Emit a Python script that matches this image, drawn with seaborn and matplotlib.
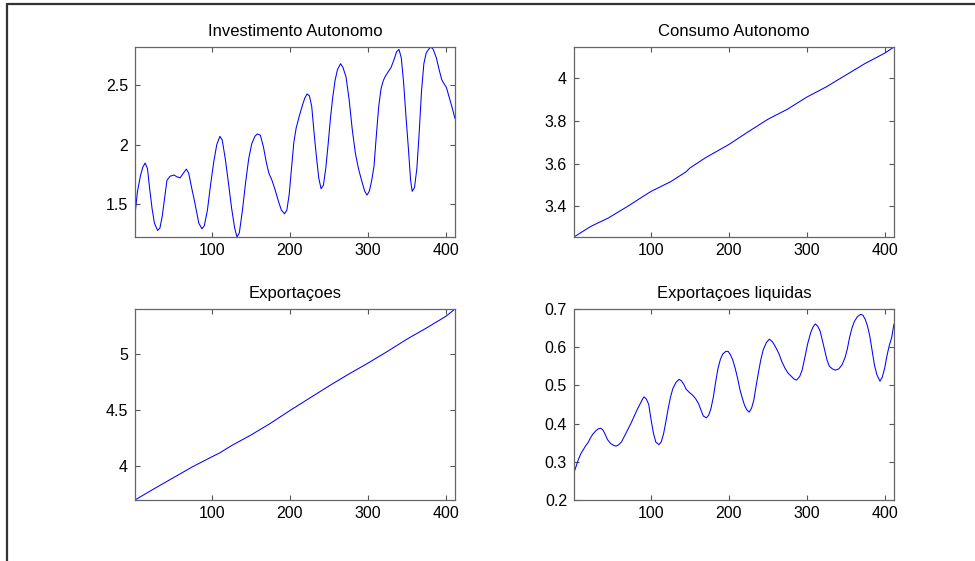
import matplotlib
matplotlib.use("Agg")
import matplotlib.pyplot as plt
from matplotlib.lines import Line2D
from matplotlib.ticker import FuncFormatter
import seaborn as sns
import pandas as pd

# ---------------- data ----------------
inv_x = [1, 4, 8, 11, 14, 17, 20, 23, 26, 30, 33, 36, 39, 42, 46, 51, 55, 59, 63, 67,
         70, 74, 77, 80, 83, 87, 90, 94, 98, 102, 106, 110, 113, 117, 121, 125, 129, 132,
         135, 139, 143, 147, 151, 155, 158, 162, 166, 170, 173, 177, 181, 185, 189, 193,
         196, 199, 202, 205, 208, 212, 216, 219, 222, 225, 228, 231, 234, 237, 240, 243,
         246, 249, 252, 255, 258, 261, 265, 268, 272, 276, 280, 284, 288, 292, 296, 299,
         302, 305, 308, 311, 314, 317, 320, 323, 326, 330, 334, 337, 340, 343, 346, 349,
         352, 355, 357, 360, 363, 366, 369, 372, 375, 378, 381, 384, 388, 392, 395, 398,
         401, 404, 408, 412]
inv_y = [1.41, 1.60, 1.74, 1.81, 1.846, 1.80, 1.62, 1.46, 1.34, 1.28, 1.30, 1.40, 1.55,
         1.70, 1.735, 1.745, 1.73, 1.722, 1.76, 1.795, 1.76, 1.63, 1.54, 1.44, 1.34, 1.294,
         1.32, 1.45, 1.66, 1.85, 2.00, 2.07, 2.04, 1.88, 1.68, 1.47, 1.30, 1.225, 1.26,
         1.45, 1.68, 1.88, 2.01, 2.07, 2.09, 2.08, 1.98, 1.84, 1.76, 1.70, 1.62, 1.53, 1.45,
         1.42, 1.45, 1.58, 1.80, 2.02, 2.14, 2.24, 2.33, 2.39, 2.426, 2.41, 2.32, 2.10, 1.90,
         1.72, 1.63, 1.66, 1.80, 2.00, 2.22, 2.40, 2.54, 2.63, 2.68, 2.65, 2.57, 2.38, 2.13,
         1.93, 1.80, 1.70, 1.61, 1.577, 1.61, 1.70, 1.82, 2.08, 2.32, 2.47, 2.54, 2.58, 2.61,
         2.65, 2.72, 2.78, 2.80, 2.73, 2.52, 2.24, 1.98, 1.70, 1.608, 1.64, 1.80, 2.10, 2.45,
         2.68, 2.77, 2.80, 2.82, 2.80, 2.73, 2.62, 2.545, 2.51, 2.48, 2.41, 2.32, 2.22]

cons_x = [1, 20, 25, 45, 70, 90, 100, 125, 145, 150, 170, 200, 225, 250, 275, 300, 325,
          350, 375, 400, 412]
cons_y = [3.256, 3.300, 3.310, 3.345, 3.400, 3.447, 3.470, 3.515, 3.562, 3.580, 3.628,
          3.690, 3.750, 3.808, 3.855, 3.912, 3.960, 4.015, 4.070, 4.118, 4.147]

exp_x = [1, 25, 50, 75, 100, 110, 125, 150, 175, 200, 225, 250, 275, 300, 325, 350, 375,
         400, 412]
exp_y = [3.691, 3.79, 3.89, 3.99, 4.08, 4.115, 4.18, 4.275, 4.38, 4.495, 4.605, 4.715,
         4.82, 4.92, 5.025, 5.135, 5.235, 5.34, 5.407]

nx_x = [1, 4, 7, 10, 13, 16, 19, 22, 25, 29, 32, 35, 38, 41, 44, 48, 52, 55, 58, 62, 66,
        70, 74, 78, 82, 86, 89, 91, 94, 97, 100, 103, 106, 110, 113, 116, 119, 122, 125,
        128, 132, 136, 139, 142, 145, 149, 153, 157, 161, 164, 167, 171, 174, 177, 180,
        183, 186, 189, 192, 196, 199, 202, 205, 208, 211, 214, 217, 220, 223, 226, 229,
        232, 235, 238, 241, 244, 248, 252, 256, 260, 264, 268, 272, 276, 280, 284, 287,
        291, 294, 298, 301, 305, 308, 311, 314, 317, 320, 323, 326, 329, 333, 337, 341,
        345, 349, 352, 355, 358, 361, 365, 369, 372, 375, 378, 381, 384, 387, 390, 394,
        397, 400, 403, 406, 409, 412]
nx_y = [0.272, 0.29, 0.308, 0.322, 0.332, 0.342, 0.350, 0.362, 0.372, 0.381, 0.386, 0.388,
        0.384, 0.372, 0.358, 0.348, 0.343, 0.341, 0.344, 0.352, 0.368, 0.384, 0.400, 0.418,
        0.436, 0.452, 0.464, 0.470, 0.464, 0.450, 0.410, 0.375, 0.352, 0.345, 0.352, 0.373,
        0.405, 0.440, 0.470, 0.492, 0.508, 0.516, 0.512, 0.503, 0.490, 0.482, 0.475, 0.466,
        0.452, 0.436, 0.420, 0.415, 0.422, 0.440, 0.470, 0.510, 0.545, 0.568, 0.582, 0.589,
        0.589, 0.580, 0.566, 0.545, 0.520, 0.490, 0.468, 0.448, 0.436, 0.430, 0.440, 0.462,
        0.500, 0.535, 0.568, 0.593, 0.612, 0.621, 0.614, 0.600, 0.584, 0.562, 0.545, 0.532,
        0.524, 0.516, 0.514, 0.524, 0.540, 0.578, 0.608, 0.638, 0.653, 0.661, 0.655, 0.643,
        0.618, 0.592, 0.566, 0.550, 0.543, 0.540, 0.543, 0.553, 0.572, 0.595, 0.626, 0.650,
        0.667, 0.680, 0.686, 0.684, 0.673, 0.655, 0.628, 0.590, 0.552, 0.528, 0.511, 0.522,
        0.545, 0.578, 0.605, 0.625, 0.661]

titles = ["Investimento Autonomo", "Consumo Autonomo", "Exportaçoes", "Exportaçoes liquidas"]
x_ticks = [100, 200, 300, 400]
y_ticks = [[1.5, 2, 2.5], [3.4, 3.6, 3.8, 4], [4, 4.5, 5], [0.2, 0.3, 0.4, 0.5, 0.6, 0.7]]
x_limits = (1, 412)
nx_limits = (0.2, 0.7)

# ---------------- figure ----------------
sns.set_theme(style="white")
plt.rcParams["font.family"] = ["Liberation Sans", "DejaVu Sans"]

fig = plt.figure(figsize=(9.75, 5.61), dpi=100)
fig.patch.set_facecolor("white")

W, H = 975.0, 561.0
boxes = [(135, 47, 455, 237), (574, 47, 894, 237), (135, 309, 455, 500), (574, 309, 894, 500)]
series = [(inv_x, inv_y), (cons_x, cons_y), (exp_x, exp_y), (nx_x, nx_y)]

fmt = FuncFormatter(lambda v, p: "%g" % v)

for i, ((l, t, r, b), (xs, ys)) in enumerate(zip(boxes, series)):
    ax = fig.add_axes([l / W, 1 - b / H, (r - l) / W, (b - t) / H])
    df = pd.DataFrame({"x": xs, "y": ys})
    sns.lineplot(data=df, x="x", y="y", ax=ax, color="#0000ff", linewidth=0.75,
                 sort=True, estimator=None)
    ax.set_xlim(*x_limits)
    if i == 3:
        ax.set_ylim(*nx_limits)
    else:
        ax.set_ylim(min(ys), max(ys))
    ax.set_xticks(x_ticks)
    ax.set_yticks(y_ticks[i])
    ax.xaxis.set_major_formatter(fmt)
    ax.yaxis.set_major_formatter(fmt)
    ax.set_xlabel("")
    ax.set_ylabel("")
    ax.set_title(titles[i], fontsize=12, color="black", pad=8)
    ax.tick_params(direction="in", length=3.5, width=0.8, color="#555555",
                   top=True, right=True, bottom=True, left=True,
                   labelsize=11.5, labelcolor="black")
    ax.tick_params(axis="x", pad=4.5)
    ax.tick_params(axis="y", pad=5)
    for s in ax.spines.values():
        s.set_visible(True)
        s.set_color("#666666")
        s.set_linewidth(0.9)
    ax.set_facecolor("white")
    ax.grid(False)

# outer frame (top and left edges visible)
fig.add_artist(Line2D([7 / W, 1.0], [1 - 4 / H, 1 - 4 / H], transform=fig.transFigure,
                      color="#333333", linewidth=1.6))
fig.add_artist(Line2D([7 / W, 7 / W], [0.0, 1 - 4 / H], transform=fig.transFigure,
                      color="#333333", linewidth=1.6))

fig.savefig("out.png", dpi=100, facecolor="white")
